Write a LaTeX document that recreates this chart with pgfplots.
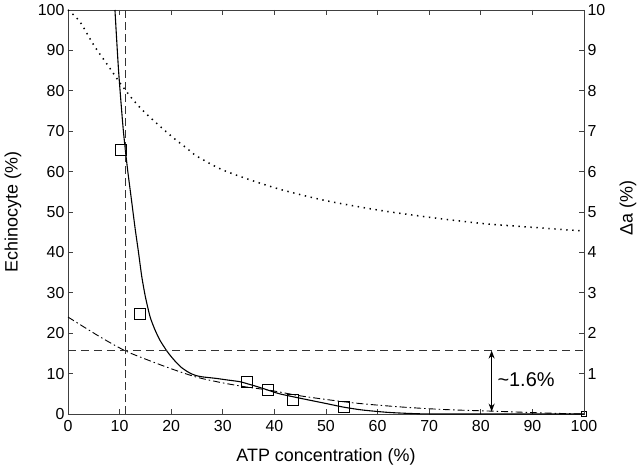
\documentclass[border=0pt]{standalone}
\usepackage{fontspec}
\setmainfont{Liberation Sans}
\usepackage{pgfplots}
\pgfplotsset{compat=1.18}
\usetikzlibrary{arrows.meta}
\begin{document}
\begin{tikzpicture}
\path[use as bounding box] (-68bp,-62bp) rectangle (572bp,414bp);
\begin{axis}[
  scale only axis, width=516bp, height=404bp,
  at={(0,0)}, anchor=south west,
  xmin=0, xmax=100, ymin=0, ymax=100,
  xtick={0,10,...,100}, ytick={0,10,...,100},
  xtick pos=both, ytick pos=left,
  tick align=inside, major tick length=5bp,
  axis line style={black!75, line width=0.9pt},
  every tick/.style={black!75, line width=0.8pt},
  /pgf/number format/assume math mode=true,
  tick label style={font=\fontsize{16}{18}\selectfont},
  xticklabel style={yshift=-3bp},
  label style={font=\fontsize{18}{21}\selectfont},
  xlabel={ATP concentration (\%)},
  ylabel={Echinocyte (\%)},
  xlabel style={at={(axis description cs:0.5,-0.1064)}, anchor=center},
  ylabel style={at={(axis description cs:-0.1066,0.5)}, anchor=center},
  clip=false,
]
% dotted curve
\addplot[black, line width=1.5bp, dash pattern=on 1.4bp off 4.6bp, smooth] coordinates {
(0,100) (2.3,97.1) (5,91.3) (8,85.8) (10.1,81.9) (12.6,77.8) (15,74.5) (20,68.8) (23,65.8) (25,63.8) (30,60.4) (36.6,57.4) (41.7,55.4) (50,52.8) (60.5,50.4) (70,48.7) (80,47.2) (90,46.2) (100,45.3)};
% dash-dot curve
\addplot[black, line width=0.9bp, dash pattern=on 7bp off 3bp on 1.5bp off 3bp, smooth] coordinates {
(0,24) (6.2,19.1) (11,15.7) (15,13.6) (20,11.2) (25,9.1) (30,7.7) (35,6.6) (39,5.9) (45,4.5) (50,3.6) (55,2.8) (60,2.2) (65,1.7) (70,1.3) (75,1.0) (82.4,0.7) (90,0.35) (95,0.15) (100,0)};
% solid fit curve
\addplot[black, line width=1.1bp, smooth, tension=0.4] coordinates {
(9.1,100) (9.8,85) (10.7,70.5) (11.5,61) (12.3,53) (13.0,46) (13.6,40.6) (14.3,34) (15.0,29) (15.9,24.1) (16.8,21) (17.8,18.3) (19.1,15.7) (20,14.2) (21.1,12.6) (22,11.5) (23,10.6) (24,9.9) (25,9.45) (26,9.2) (27,9.05) (28.8,8.8) (31,8.4) (33.3,8.0) (35,7.4) (36.6,6.8) (38.8,5.9) (41,5.0) (45,3.9) (50,2.6) (53.4,1.7) (57,1.0) (62,0.4) (67,0.1) (72,0) (100,0)};
% guide lines
\addplot[black!80, line width=1.3bp, dash pattern=on 8bp off 4bp] coordinates {(11.1,0) (11.1,100)};
\addplot[black!80, line width=1.1bp, dash pattern=on 8bp off 5bp] coordinates {(0,15.7) (100,15.7)};
% data points
\addplot[only marks, mark=square, mark size=5.5bp, mark options={black, line width=1bp}] coordinates {
(10.3,65.3) (13.9,24.8) (34.6,8.0) (38.8,5.9) (43.6,3.4) (53.4,1.8)};
\addplot[only marks, mark=square, mark size=2.5bp, mark options={black, line width=1bp}] coordinates {(100,0)};
% annotation
\draw[{Stealth[length=8bp,width=6bp]}-{Stealth[length=8bp,width=6bp]}, line width=1bp] (axis cs:82.1,15.7) -- (axis cs:82.1,0.6);
\node[anchor=west, font=\fontsize{20}{24}\selectfont, inner sep=0pt] at (axis cs:83.2,8.4) {\textasciitilde1.6\%};
\end{axis}
\begin{axis}[
  scale only axis, width=516bp, height=404bp,
  at={(0,0)}, anchor=south west,
  xmin=0, xmax=100, ymin=0, ymax=10,
  axis x line=none, axis y line*=right,
  ytick={1,...,10},
  tick align=inside, major tick length=5bp,
  axis line style={black!75, line width=0.9pt},
  every tick/.style={black!75, line width=0.8pt},
  /pgf/number format/assume math mode=true,
  tick label style={font=\fontsize{16}{18}\selectfont},
  label style={font=\fontsize{18}{21}\selectfont},
  ylabel={Δa (\%)},
  ylabel style={at={(axis description cs:1.0853,0.51)}, anchor=center},
]
\end{axis}
\end{tikzpicture}
\end{document}
